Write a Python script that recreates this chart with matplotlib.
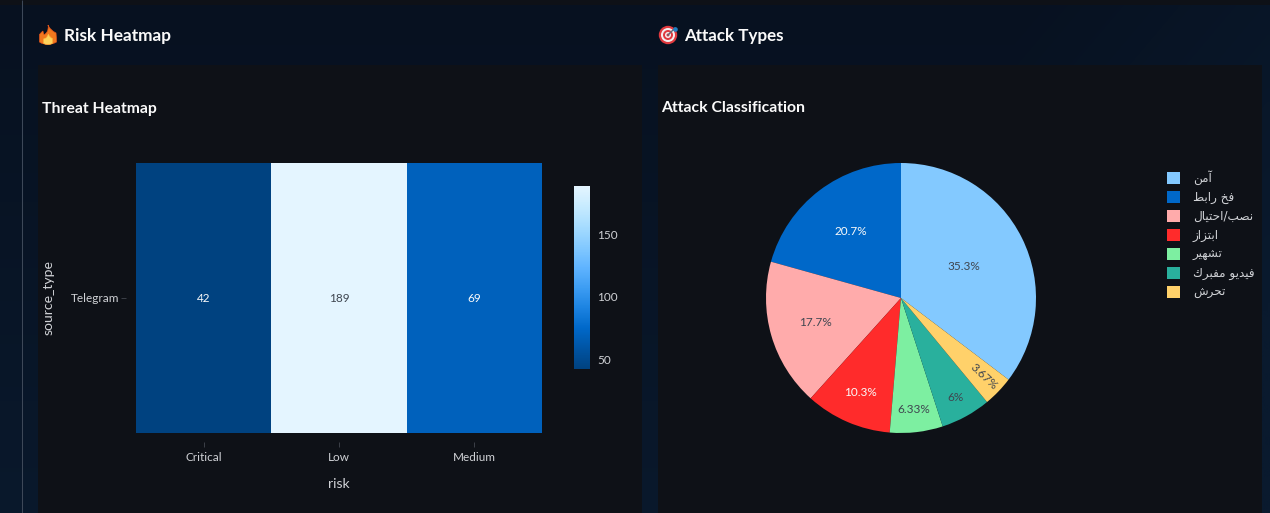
import numpy as np
import matplotlib
matplotlib.use("Agg")
import matplotlib.pyplot as plt
from matplotlib.colors import LinearSegmentedColormap
from matplotlib.patches import Rectangle, Circle, PathPatch
from matplotlib.path import Path

# Data
risk_levels = ["Critical", "Low", "Medium"]
source_types = ["Telegram"]
threat_counts = [[42, 189, 69]]
colorbar_ticks = [50, 100, 150]

attack_names = ["آمن", "فخ رابط", "نصب/احتيال", "ابتزاز", "تشهير", "فيديو مفبرك", "تحرش"]
attack_counts = [106, 62, 53, 31, 19, 18, 11]
attack_labels = ["35.3%", "20.7%", "17.7%", "10.3%", "6.33%", "6%", "3.67%"]

# Styling
W, H = 1270, 513
PANEL = "#0e1117"
TEXT = "#fafafa"
TICK_TEXT = "#d0d2d6"
SCALE = ["#004280", "#0054a3", "#0068c9", "#1c83e1", "#3d9df3",
         "#60b4ff", "#83c9ff", "#a6dcff", "#c7ebff", "#e4f5ff"]
SLICE_COLORS = ["#83c9ff", "#0068c9", "#ffabab", "#ff2b2b", "#7defa1", "#29b09d", "#ffd16a"]
LABEL_COLORS = ["#3f4650", "#fafafa", "#3f4650", "#fafafa", "#3f4650", "#3f4650", "#3f4650"]
LABEL_RADII = [0.52, 0.62, 0.66, 0.76, 0.83, 0.845, 0.845]
LABEL_ROTATION = [0, 0, 0, 0, 0, 0, -43]
SANS = "Lato"


def px(size):
    return size * 0.72


def axes_at(left, top, right, bottom, **kw):
    return fig.add_axes([left / W, 1 - bottom / H, (right - left) / W, (bottom - top) / H], **kw)


# Contextual forms: isolated, final, initial, medial
ARABIC_FORMS = {
    "آ": (0xFE81, 0xFE82), "ا": (0xFE8D, 0xFE8E), "د": (0xFEA9, 0xFEAA), "ر": (0xFEAD, 0xFEAE),
    "ز": (0xFEAF, 0xFEB0), "و": (0xFEED, 0xFEEE),
    "ب": (0xFE8F, 0xFE90, 0xFE91, 0xFE92), "ت": (0xFE95, 0xFE96, 0xFE97, 0xFE98),
    "ح": (0xFEA1, 0xFEA2, 0xFEA3, 0xFEA4), "خ": (0xFEA5, 0xFEA6, 0xFEA7, 0xFEA8),
    "ش": (0xFEB5, 0xFEB6, 0xFEB7, 0xFEB8), "ص": (0xFEB9, 0xFEBA, 0xFEBB, 0xFEBC),
    "ط": (0xFEC1, 0xFEC2, 0xFEC3, 0xFEC4), "ف": (0xFED1, 0xFED2, 0xFED3, 0xFED4),
    "ك": (0xFED9, 0xFEDA, 0xFEDB, 0xFEDC), "ل": (0xFEDD, 0xFEDE, 0xFEDF, 0xFEE0),
    "م": (0xFEE1, 0xFEE2, 0xFEE3, 0xFEE4), "ن": (0xFEE5, 0xFEE6, 0xFEE7, 0xFEE8),
    "ه": (0xFEE9, 0xFEEA, 0xFEEB, 0xFEEC), "ي": (0xFEF1, 0xFEF2, 0xFEF3, 0xFEF4),
}


def shape_arabic(text):
    """Join letters and lay them out right to left, since Agg text has no shaping."""
    out = []
    for i, ch in enumerate(text):
        forms = ARABIC_FORMS.get(ch)
        if forms is None:
            out.append(ch)
            continue
        prev_forms = ARABIC_FORMS.get(text[i - 1]) if i else None
        next_ch = text[i + 1] if i + 1 < len(text) else ""
        joins_prev = prev_forms is not None and len(prev_forms) == 4
        joins_next = next_ch in ARABIC_FORMS and len(forms) == 4
        if joins_prev and joins_next:
            code = forms[3]
        elif joins_prev:
            code = forms[1]
        elif joins_next:
            code = forms[2]
        else:
            code = forms[0]
        out.append(chr(code))
    return "".join(reversed(out))


fig = plt.figure(figsize=(W / 100, H / 100), dpi=100)

# Page backdrop, panels and headings share one pixel-based layer
page = fig.add_axes([0, 0, 1, 1], zorder=0)
page.set_xlim(0, W)
page.set_ylim(H, 0)
page.axis("off")

horizontal = np.linspace(0, 1, 256)
blue = np.zeros((128, 256, 3))
vertical = np.linspace(0, 1, 128)[:, None]
base = np.array([0x07, 0x11, 0x20]) / 255
glow = np.array([0x0a, 0x1a, 0x2e]) / 255
mix = np.clip(0.85 * vertical + 0.5 * np.clip((horizontal - 0.8) / 0.2, 0, 1)[None, :], 0, 1)
blue[...] = base + (glow - base) * mix[..., None]
page.imshow(blue, extent=(0, W, H, 0), aspect="auto", zorder=0, interpolation="bilinear")
page.set_xlim(0, W)
page.set_ylim(H, 0)

page.add_patch(Rectangle((0, 0), W, 5, fc=PANEL, ec="none", zorder=1))
page.add_patch(Rectangle((38, 65), 604, H - 65, fc=PANEL, ec="none", zorder=1))
page.add_patch(Rectangle((658, 65), 604, H - 65, fc=PANEL, ec="none", zorder=1))
page.plot([21.5, 21.5], [0, H], color="#3d4858", lw=0.75, zorder=2, solid_capstyle="butt")

page.text(64, 35.5, "Risk Heatmap", color=TEXT, fontsize=px(17.2), fontweight="bold",
          family=SANS, va="center", ha="left", zorder=3)
page.text(684, 35.5, "Attack Types", color=TEXT, fontsize=px(17), fontweight="bold",
          family=SANS, va="center", ha="left", zorder=3)
page.text(42, 108.5, "Threat Heatmap", color=TEXT, fontsize=px(15.8), fontweight="bold",
          family=SANS, va="center", ha="left", zorder=3)
page.text(661.5, 108.5, "Attack Classification", color=TEXT, fontsize=px(15.8), fontweight="bold",
          family=SANS, va="center", ha="left", zorder=3)

# Flame icon beside the first heading
flame_outer = Path(
    [(48, 25), (50, 30), (56, 33), (56.5, 38), (56.5, 42), (52, 44.5), (48, 44.5),
     (43, 44.5), (39.5, 42), (39.5, 37.5), (39.5, 34.5), (41.5, 32), (43, 31),
     (43, 33), (44, 34.5), (45, 35), (47, 32), (49, 29), (48, 25)],
    [Path.MOVETO] + [Path.CURVE3] * 18)
flame_inner = Path(
    [(48.5, 34), (49, 37), (52.5, 38.5), (52.5, 41), (52.5, 43.5), (50, 44.5), (48, 44.5),
     (46, 44.5), (43.5, 43.5), (43.5, 41), (43.5, 39), (45, 38), (46, 38), (47, 37), (48.5, 34)],
    [Path.MOVETO] + [Path.CURVE3] * 14)
page.add_patch(PathPatch(flame_outer, fc="#f0781e", ec="#e0531c", lw=0.5, zorder=3))
page.add_patch(PathPatch(flame_inner, fc="#fdd35c", ec="#fbb03b", lw=0.4, zorder=4))

# Target icon beside the second heading
for radius, colour in [(9.2, "#e0393e"), (7.0, "#f4eeee"), (5.0, "#e0393e"),
                       (3.0, "#f4eeee"), (1.5, "#e0393e")]:
    page.add_patch(Circle((668, 35), radius, fc=colour, ec="none", zorder=3))
page.plot([668, 675], [35, 28], color="#5d6b78", lw=1.0, zorder=4)
page.add_patch(Circle((675.5, 29.5), 2.3, fc="#1f7fc4", ec="none", zorder=5))

# Heatmap
scale = LinearSegmentedColormap.from_list("blues", SCALE)
values = np.array(threat_counts, dtype=float)
heat_ax = axes_at(136, 163, 542, 433, zorder=2)
heat_ax.patch.set_alpha(0)
mesh = heat_ax.pcolormesh(values, cmap=scale, vmin=values.min(), vmax=values.max(),
                          edgecolors="none", antialiased=False)
heat_ax.set_xticks(np.arange(len(risk_levels)) + 0.5, risk_levels)
heat_ax.set_yticks(np.arange(len(source_types)) + 0.5, source_types)
for side in ("top", "right"):
    heat_ax.spines[side].set_visible(False)
for side, offset in (("bottom", 6.5), ("left", 7)):
    heat_ax.spines[side].set_position(("outward", offset))
    heat_ax.spines[side].set_visible(False)
heat_ax.tick_params(axis="both", color="#3c4048", length=3.5, width=0.7,
                    labelcolor=TICK_TEXT, labelsize=px(11.7), pad=4)
heat_ax.tick_params(axis="y", pad=1.5)
for label in heat_ax.get_xticklabels() + heat_ax.get_yticklabels():
    label.set_family(SANS)
heat_ax.set_xlabel("risk", color=TICK_TEXT, fontsize=px(14), family=SANS, labelpad=10.5)
heat_ax.set_ylabel("source_type", color=TICK_TEXT, fontsize=px(14), family=SANS, va="center")
heat_ax.yaxis.set_label_coords((49 - 136) / 406, 0.5)

midpoint = (values.min() + values.max()) / 2
for row, row_values in enumerate(threat_counts):
    for col, value in enumerate(row_values):
        heat_ax.text(col + 0.5, row + 0.5, str(value), ha="center", va="center",
                     fontsize=px(11.7), family=SANS,
                     color="#3f4650" if value > midpoint else TEXT)

# Colour bar
bar_ax = axes_at(574, 186, 590, 369, zorder=2)
bar = fig.colorbar(mesh, cax=bar_ax)
bar.set_ticks(colorbar_ticks)
bar.outline.set_visible(False)
bar.ax.tick_params(length=0, labelcolor=TICK_TEXT, labelsize=px(11.7), pad=5)
for label in bar.ax.get_yticklabels():
    label.set_family(SANS)

# Pie: the largest slice ends at twelve o'clock, the rest run anticlockwise
pie_ax = axes_at(766, 163, 1036, 433, zorder=2)
pie_ax.patch.set_alpha(0)
start = 90 - 360 * attack_counts[0] / sum(attack_counts)
wedges, _ = pie_ax.pie(attack_counts, colors=SLICE_COLORS, startangle=start, radius=1.0,
                       counterclock=True, wedgeprops={"linewidth": 0})
pie_ax.set_xlim(-1, 1)
pie_ax.set_ylim(-1, 1)
for wedge, text, colour, radius, rotation in zip(wedges, attack_labels, LABEL_COLORS,
                                                 LABEL_RADII, LABEL_ROTATION):
    angle = np.deg2rad((wedge.theta1 + wedge.theta2) / 2)
    pie_ax.text(radius * np.cos(angle), radius * np.sin(angle), text, color=colour,
                ha="center", va="center", rotation=rotation, rotation_mode="anchor",
                fontsize=px(11.7), family=SANS)

legend = fig.legend(wedges, [shape_arabic(name) for name in attack_names],
                    loc="upper left", bbox_to_anchor=(1167 / W, 1 - 170.5 / H),
                    frameon=False, ncol=1, borderaxespad=0, borderpad=0,
                    handlelength=1.08, handleheight=1.08, handletextpad=1.08,
                    labelspacing=0.49,
                    prop={"family": "DejaVu Sans", "size": px(12)})
for text in legend.get_texts():
    text.set_color(TICK_TEXT)
legend.set_zorder(3)

fig.savefig("out.png", dpi=100, facecolor=PANEL)
